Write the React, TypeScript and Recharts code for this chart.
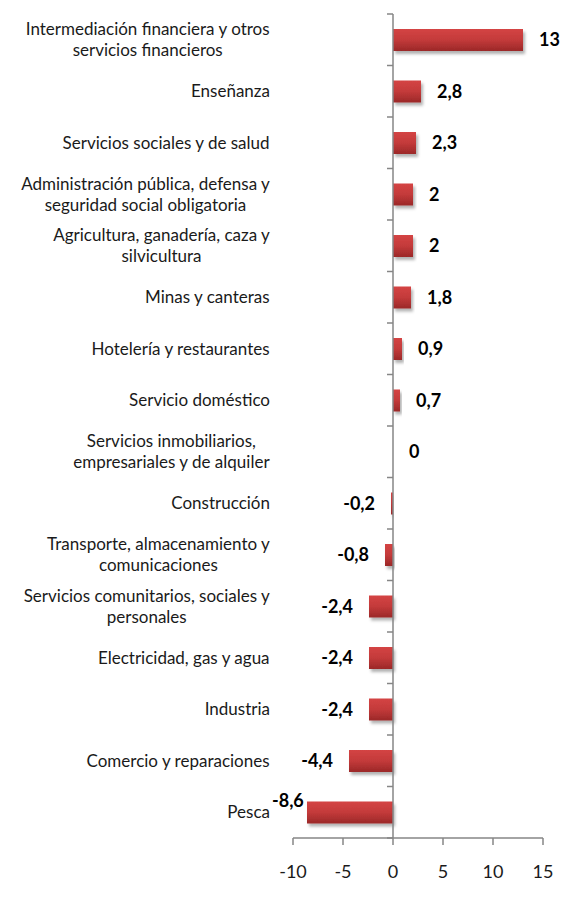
import React from "react";
import { Bar, BarChart, XAxis, YAxis, ReferenceLine, LabelList } from "recharts";

// sectors, top to bottom
const categories = [
  "Intermediación financiera y otros\nservicios financieros",
  "Enseñanza",
  "Servicios sociales y de salud",
  "Administración pública, defensa y\nseguridad social obligatoria",
  "Agricultura, ganadería, caza y\nsilvicultura",
  "Minas y canteras",
  "Hotelería y restaurantes",
  "Servicio doméstico",
  "Servicios inmobiliarios,\nempresariales y de alquiler",
  "Construcción",
  "Transporte, almacenamiento y\ncomunicaciones",
  "Servicios comunitarios, sociales y\npersonales",
  "Electricidad, gas y agua",
  "Industria",
  "Comercio y reparaciones",
  "Pesca",
];

const values = [13, 2.8, 2.3, 2, 2, 1.8, 0.9, 0.7, 0, -0.2, -0.8, -2.4, -2.4, -2.4, -4.4, -8.6];

const xTicks = [-10, -5, 0, 5, 10, 15];

const data = categories.map((name, i) => ({ name, value: values[i] }));

const W = 562;
const H = 898;
const MARGIN = { top: 14, right: 19, bottom: 0, left: 0 };
const Y_AXIS_W = 293;
const X_AXIS_H = 60;
const PLOT_LEFT = MARGIN.left + Y_AXIS_W;
const PLOT_W = W - PLOT_LEFT - MARGIN.right;
const PLOT_H = H - MARGIN.top - MARGIN.bottom - X_AXIS_H;
const X_MIN = xTicks[0];
const X_MAX = xTicks[xTicks.length - 1];
const ZERO_X = PLOT_LEFT + ((0 - X_MIN) / (X_MAX - X_MIN)) * PLOT_W;
const BAND = PLOT_H / categories.length;

const FONT = "Lato, 'Open Sans', sans-serif";
const CAT_SIZE = 17;
const LABEL_SIZE = 18;
const LABEL_RIGHT = 270;
const AXIS_COLOR = "#868686";

let ctx: CanvasRenderingContext2D | null = null;
function measure(text: string, font: string) {
  if (!ctx) ctx = document.createElement("canvas").getContext("2d");
  if (!ctx) return text.length * 7;
  ctx.font = font;
  return ctx.measureText(text).width;
}

const fmt = (v: number) => String(v).replace(".", ",");

function CategoryTick(props: any) {
  const { y, payload, index } = props;
  const lines: string[] = String(payload.value).split("\n");
  const lh = 21;
  const widest = Math.max(...lines.map((l) => measure(l, `${CAT_SIZE}px Lato`)));
  const cx = LABEL_RIGHT - widest / 2;
  const y0 = y - ((lines.length - 1) * lh) / 2;
  const top = y - BAND / 2;
  return (
    <g>
      <text textAnchor="middle" fontFamily={FONT} fontSize={CAT_SIZE} fill="#1a1a1a">
        {lines.map((l, i) => (
          <tspan key={i} x={cx} y={y0 + i * lh} dy="0.35em">
            {l}
          </tspan>
        ))}
      </text>
      <line x1={ZERO_X - 6} x2={ZERO_X} y1={top} y2={top} stroke={AXIS_COLOR} strokeWidth={1.5} />
      {index === categories.length - 1 && (
        <line x1={ZERO_X - 6} x2={ZERO_X} y1={top + BAND} y2={top + BAND} stroke={AXIS_COLOR} strokeWidth={1.5} />
      )}
    </g>
  );
}

function ValueLabel(props: any) {
  const { x, y, width, height, value } = props;
  const v = Number(value);
  const text = fmt(v);
  const cy = Number(y) + Number(height) / 2;
  const a = Number(x);
  const b = Number(x) + Number(width);
  const tw = measure(text, `bold ${LABEL_SIZE}px Lato`);
  if (v >= 0) {
    const end = v === 0 ? ZERO_X : Math.max(a, b);
    return (
      <text x={end + 16} y={cy} dy="0.35em" textAnchor="start" fontFamily={FONT} fontSize={LABEL_SIZE} fontWeight="bold" fill="#000">
        {text}
      </text>
    );
  }
  const end = Math.min(a, b);
  let right = end - 16;
  let dy = 0;
  // not enough room before the category labels: tuck it in and lift it
  if (right - tw < LABEL_RIGHT + 2) {
    right = LABEL_RIGHT + 2 + tw;
    dy = -12;
  }
  return (
    <text x={right} y={cy + dy} dy="0.35em" textAnchor="end" fontFamily={FONT} fontSize={LABEL_SIZE} fontWeight="bold" fill="#000">
      {text}
    </text>
  );
}

export default function App() {
  return (
    <div style={{ position: "absolute", left: 0, top: 0, background: "#fff" }}>
      <BarChart width={W} height={H} data={data} layout="vertical" margin={MARGIN}>
        <defs>
          <linearGradient id="barGrad" x1="0" y1="0" x2="0" y2="1">
            <stop offset="0%" stopColor="#d44444" />
            <stop offset="50%" stopColor="#c33a3a" />
            <stop offset="100%" stopColor="#9b2828" />
          </linearGradient>
          <filter id="barShadow" x="-10%" y="-20%" width="130%" height="160%">
            <feDropShadow dx="2" dy="3" stdDeviation="1.5" floodColor="#000" floodOpacity="0.3" />
          </filter>
        </defs>
        <XAxis
          type="number"
          domain={[X_MIN, X_MAX]}
          ticks={xTicks}
          height={X_AXIS_H}
          axisLine={{ stroke: AXIS_COLOR, strokeWidth: 1.5 }}
          tickLine={{ stroke: AXIS_COLOR, strokeWidth: 1.5 }}
          tickSize={7}
          tickMargin={20}
          tick={{ fill: "#1a1a1a", fontSize: 18, fontFamily: FONT }}
        />
        <YAxis
          type="category"
          dataKey="name"
          width={Y_AXIS_W}
          axisLine={false}
          tickLine={false}
          interval={0}
          tick={<CategoryTick />}
        />
        <ReferenceLine x={0} stroke={AXIS_COLOR} strokeWidth={1.5} />
        <Bar
          dataKey="value"
          barSize={22}
          minPointSize={0.01}
          fill="url(#barGrad)"
          filter="url(#barShadow)"
          isAnimationActive={false}
        >
          <LabelList dataKey="value" content={<ValueLabel />} />
        </Bar>
      </BarChart>
    </div>
  );
}
